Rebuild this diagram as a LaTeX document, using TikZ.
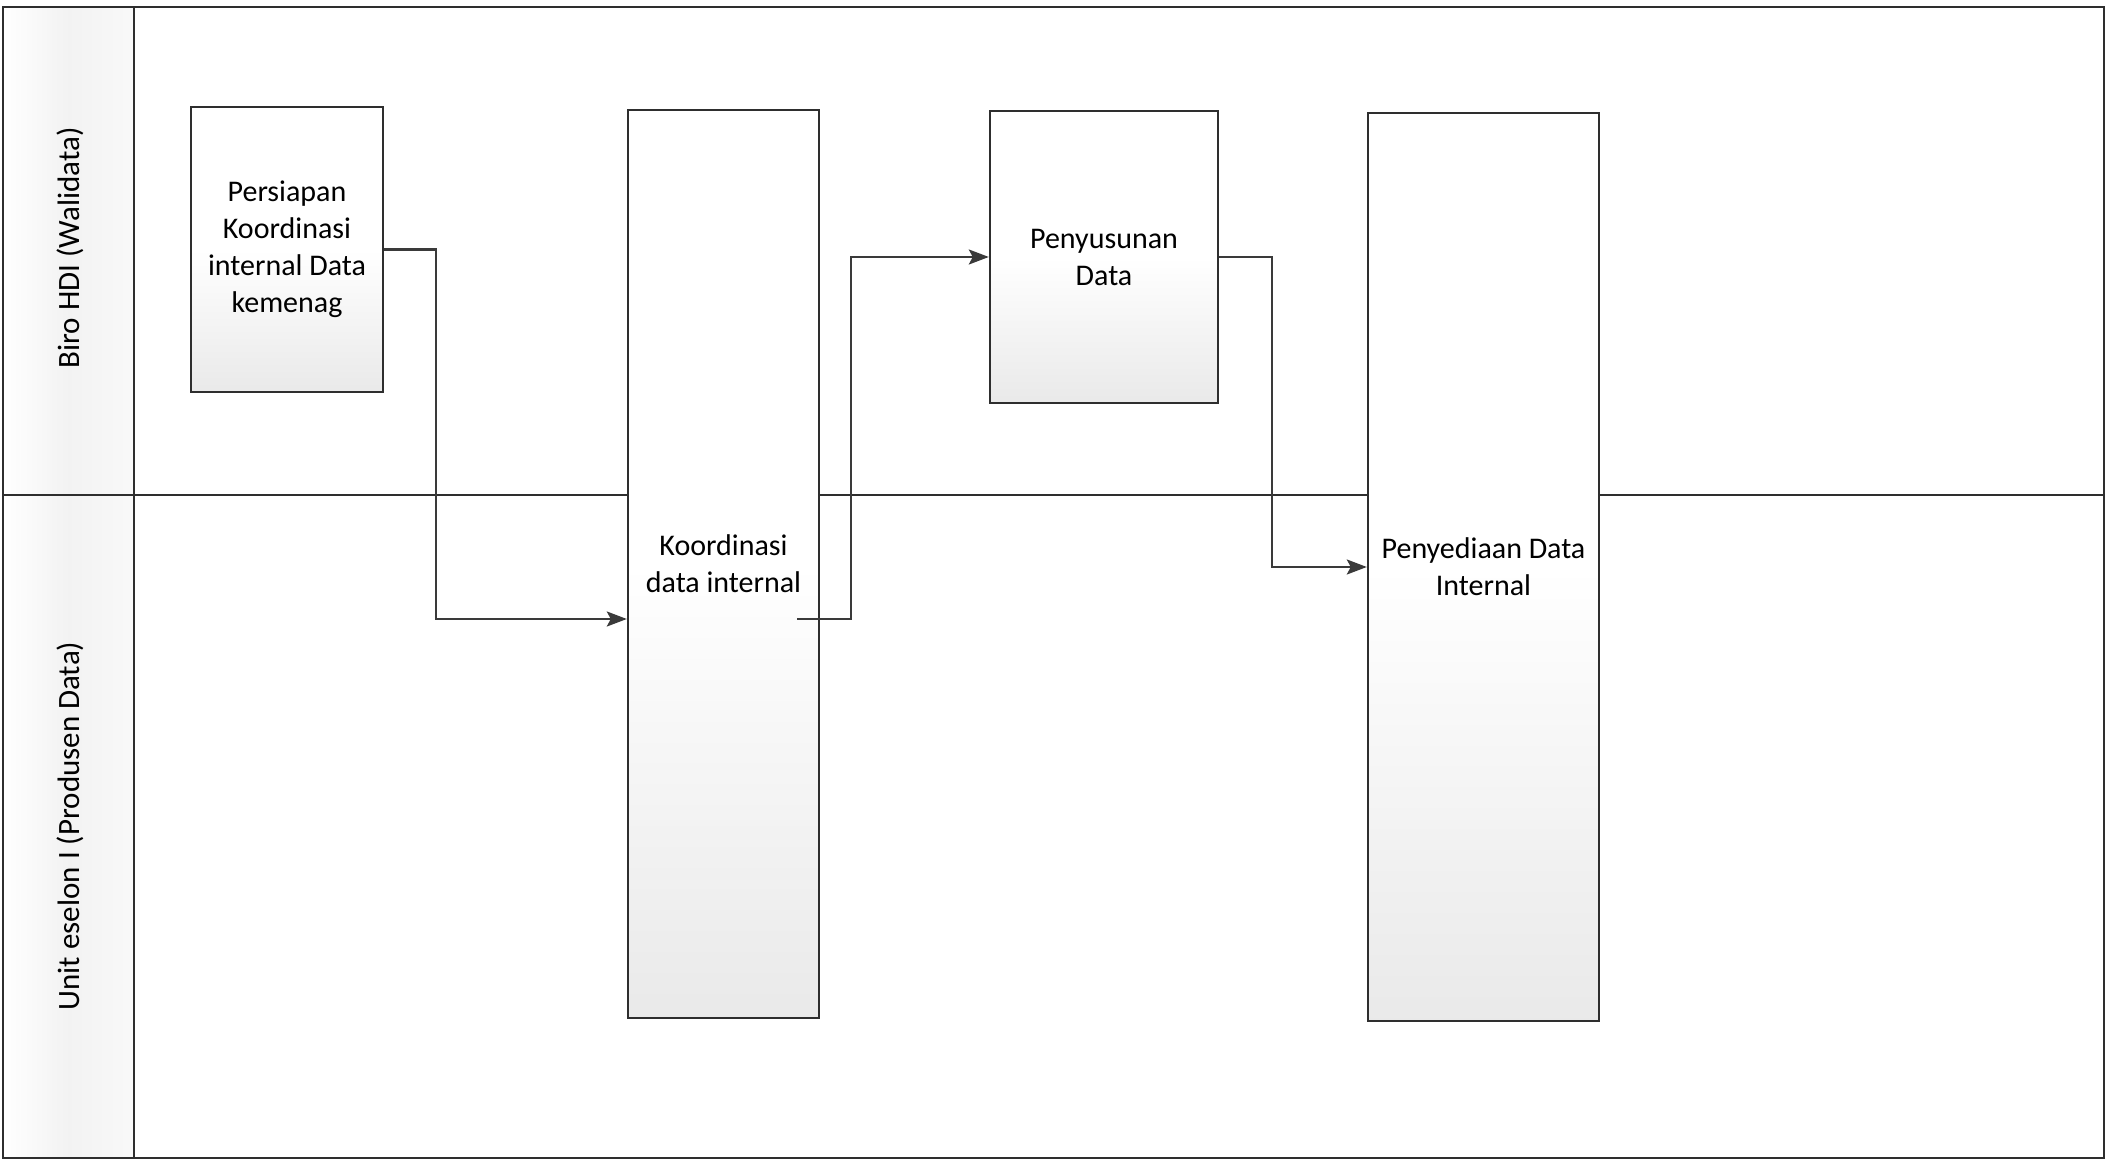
\documentclass[tikz,border=0pt]{standalone}
\usepackage{fontspec}
\setmainfont{Carlito}
\usetikzlibrary{arrows.meta,calc}
\definecolor{ln}{HTML}{2E2E2E}
\definecolor{ar}{HTML}{3A3A3A}
\tikzset{
  procbox/.style={draw=ln, line width=2.4pt, top color=white, bottom color=gray!17,
    middle color=white, shading angle=0, align=center, inner sep=0pt,
    font=\fontsize{30}{37}\selectfont, text=black},
  lanelabel/.style={rotate=90, font=\fontsize{31}{37}\selectfont, text=black},
  flow/.style={draw=ar, line width=2.4pt, -{Stealth[length=20pt,width=15pt,inset=4pt]}},
  frame/.style={draw=ln, line width=2.2pt}
}
\begin{document}
\begin{tikzpicture}[x=1pt,y=1pt]
\useasboundingbox (0,0) rectangle (2106,1160);
% label column shading
\shade[left color=white, right color=gray!5, middle color=gray!10] (3,2) rectangle (134,1153);
% frame and lane lines
\draw[frame] (3,2) rectangle (2104,1153);
\draw[frame] (134,2) -- (134,1153);
\draw[frame] (3,665) -- (2104,665);
% lane labels
\node[lanelabel] (l1) at (70,912) {Biro HDI (Walidata)};
\node[lanelabel] (l2) at (70,334) {Unit eselon I (Produsen Data)};
% boxes
\node[procbox, minimum width=192pt, minimum height=285pt] (b1) at (287,910.5) {Persiapan\\Koordinasi\\internal Data\\kemenag};
\node[procbox, minimum width=191pt, minimum height=908pt] (b2) at (723.5,596) {Koordinasi\\data internal};
\node[procbox, minimum width=228pt, minimum height=292pt] (b3) at (1104,903) {Penyusunan\\Data};
\node[procbox, minimum width=231pt, minimum height=908pt] (b4) at (1483.5,593) {Penyediaan Data\\Internal};
% bend coordinates
\coordinate (k1) at (436,0);
\coordinate (k2) at (851,0);
\coordinate (k3) at (1272,0);
\coordinate (s2) at ([xshift=-23pt,yshift=-55pt]b2.east);
\coordinate (e1) at ([yshift=-55pt]b2.west);
% connectors
\draw[flow] (b1.east) -| (k1 |- e1) -- (e1);
\draw[flow] (s2) -- (k2 |- s2) |- (b3.west);
\draw[flow] (b3.east) -| (k3 |- b4.west) -- (b4.west);
\end{tikzpicture}
\end{document}
